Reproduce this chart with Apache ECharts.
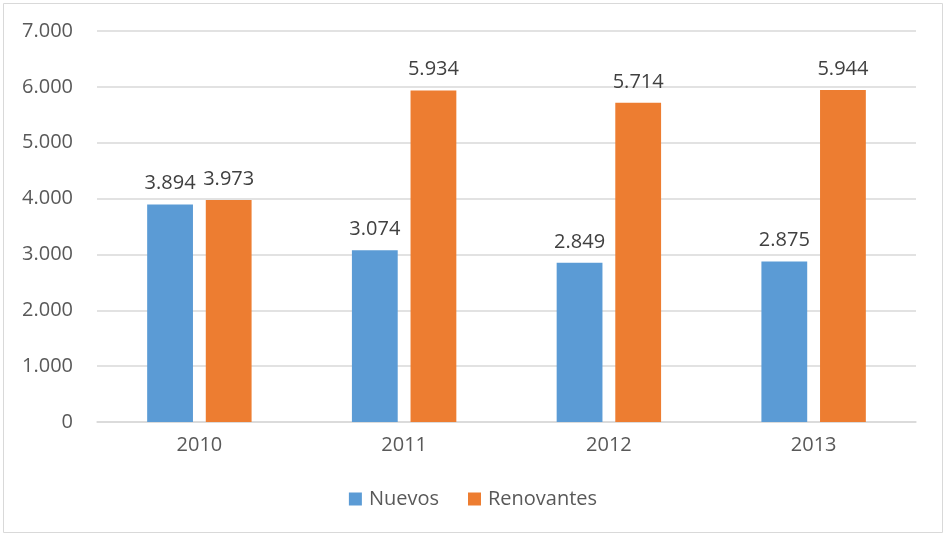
<!DOCTYPE html>
<html><head><meta charset="utf-8">
<script src="https://cdn.jsdelivr.net/npm/echarts@6/dist/echarts.min.js"></script>
<style>html,body{margin:0;padding:0;background:#fff}#c{width:946px;height:535px}</style>
</head><body><div id="c"></div>
<script>
const categories = ['2010','2011','2012','2013'];
const nuevos = [3894, 3074, 2849, 2875];
const renovantes = [3973, 5934, 5714, 5944];
const yTicks = [0,1000,2000,3000,4000,5000,6000,7000];

const fmt = v => v === 0 ? '0' : (v/1000).toFixed(3);
const font = '"Open Sans", "Liberation Sans", sans-serif';
const chart = echarts.init(document.getElementById('c'), null, {renderer:'canvas'});
chart.setOption({
  animation:false,
  textStyle:{fontFamily:font},
  graphic:[{type:'rect',shape:{x:3.5,y:3.5,width:939,height:529},style:{fill:'none',stroke:'#d9d9d9',lineWidth:1},silent:true}],
  grid:{left:97,right:30,top:31,bottom:113,containLabel:false},
  legend:{bottom:21,left:'center',itemWidth:13,itemHeight:13,itemGap:29,icon:'rect',
    textStyle:{color:'#595959',fontSize:20,fontFamily:font,padding:[0,0,0,2]},data:['Nuevos','Renovantes']},
  xAxis:{type:'category',data:categories,axisTick:{show:false},
    axisLine:{lineStyle:{color:'#d9d9d9',width:1.5}},
    axisLabel:{color:'#595959',fontSize:20,margin:13,fontFamily:font}},
  yAxis:{type:'value',min:yTicks[0],max:yTicks[yTicks.length-1],interval:1000,
    axisLine:{show:false},axisTick:{show:false},
    splitLine:{lineStyle:{color:'#d9d9d9',width:1.5}},
    axisLabel:{color:'#595959',fontSize:20,margin:24,fontFamily:font,formatter:fmt}},
  series:[
    {name:'Nuevos',type:'bar',data:nuevos,itemStyle:{color:'#5b9bd5'},barGap:'28%',barCategoryGap:'49%',
     label:{show:true,position:'top',distance:11,color:'#404040',fontSize:20,fontFamily:font,formatter:p=>fmt(p.value)}},
    {name:'Renovantes',type:'bar',data:renovantes,itemStyle:{color:'#ed7d31'},barGap:'28%',barCategoryGap:'49%',
     label:{show:true,position:'top',distance:11,color:'#404040',fontSize:20,fontFamily:font,formatter:p=>fmt(p.value)}}
  ]
});
</script></body></html>
